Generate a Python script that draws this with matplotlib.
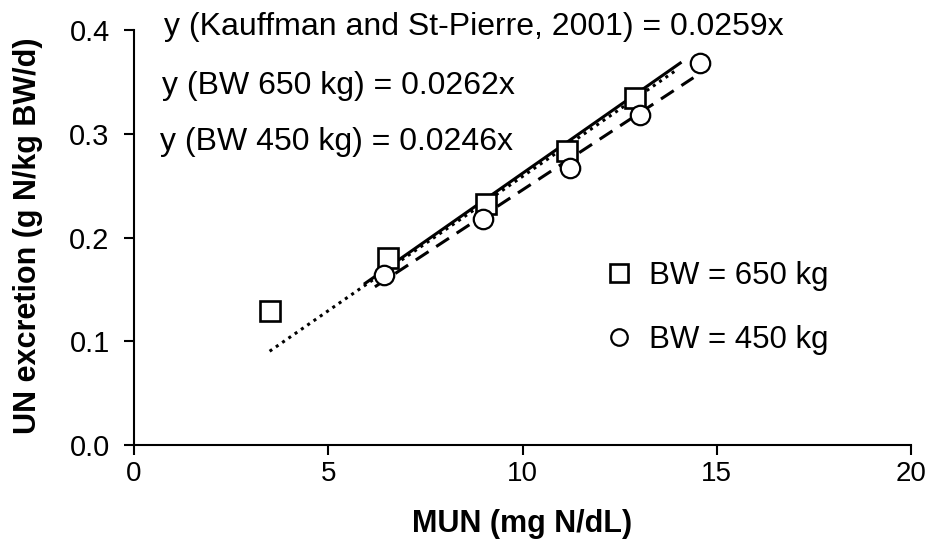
import matplotlib
matplotlib.use("Agg")
import matplotlib.pyplot as plt
import numpy as np

plt.rcParams['font.family'] = ['Liberation Sans', 'DejaVu Sans']

# Data
mun_650 = [3.49, 6.55, 9.07, 11.15, 12.89]
une_650 = [0.129, 0.180, 0.232, 0.284, 0.335]
mun_450 = [6.43, 8.97, 11.21, 13.02, 14.57]
une_450 = [0.164, 0.2175, 0.267, 0.318, 0.368]

slope_ks = 0.0259
range_ks = [3.49, 14.0]
slope_650 = 0.0262
range_650 = [5.95, 14.06]
slope_450 = 0.0246
range_450 = [6.2, 14.4]

x_ticks = [0, 5, 10, 15, 20]
y_ticks = [0.0, 0.1, 0.2, 0.3, 0.4]

fig = plt.figure(figsize=(9.29, 5.40), dpi=100)
ax = fig.add_axes([0.1443, 0.176, 0.8363, 0.768])

def fit_line(slope, xr, **kw):
    xs = np.array(xr)
    ax.plot(xs, slope * xs, color='black', **kw)

fit_line(slope_ks, range_ks, linestyle=(0, (1, 1.5)), linewidth=2.2)
fit_line(slope_650, range_650, linestyle='-', linewidth=2.2)
fit_line(slope_450, range_450, linestyle=(0, (5, 3)), linewidth=2.2)

ax.plot(mun_650, une_650, linestyle='none', marker='s', markersize=14.5,
        markerfacecolor='white', markeredgecolor='black', markeredgewidth=1.9,
        label='BW = 650 kg', zorder=3)
ax.plot(mun_450, une_450, linestyle='none', marker='o', markersize=14,
        markerfacecolor='white', markeredgecolor='black', markeredgewidth=1.6,
        label='BW = 450 kg', zorder=3)

ax.set_xlim(0, 20)
ax.set_ylim(0, 0.4)
ax.set_xticks(x_ticks)
ax.set_xticklabels([str(v) for v in x_ticks])
ax.set_yticks(y_ticks)
ax.set_yticklabels([f'{v:.1f}' for v in y_ticks])
ax.tick_params(axis='both', direction='out', length=7.5, width=1.5, labelsize=20, color='black')
ax.tick_params(axis='y', labelsize=21, pad=10)
ax.tick_params(axis='x', pad=4)
for s in ['top', 'right']:
    ax.spines[s].set_visible(False)
for s in ['left', 'bottom']:
    ax.spines[s].set_linewidth(1.5)

ax.set_xlabel('MUN (mg N/dL)', fontsize=22, fontweight='bold')
ax.set_ylabel('UN excretion (g N/kg BW/d)', fontsize=22, fontweight='bold')
ax.xaxis.set_label_coords(0.5, -0.155)
ax.yaxis.set_label_coords(-0.117, 0.505)

ax.text(0.78, 0.4035, 'y (Kauffman and St-Pierre, 2001) = 0.0259x', fontsize=23, va='center', ha='left')
ax.text(0.73, 0.346, 'y (BW 650 kg) = 0.0262x', fontsize=23, va='center', ha='left')
ax.text(0.66, 0.292, 'y (BW 450 kg) = 0.0246x', fontsize=23, va='center', ha='left')

leg = ax.legend(loc='center left', bbox_to_anchor=(0.604, 0.331), frameon=False,
                fontsize=22.5, handletextpad=0.45, labelspacing=1.1, markerscale=0.85,
                handlelength=1.0, borderaxespad=0, borderpad=0)

fig.savefig('out.png', dpi=100)
